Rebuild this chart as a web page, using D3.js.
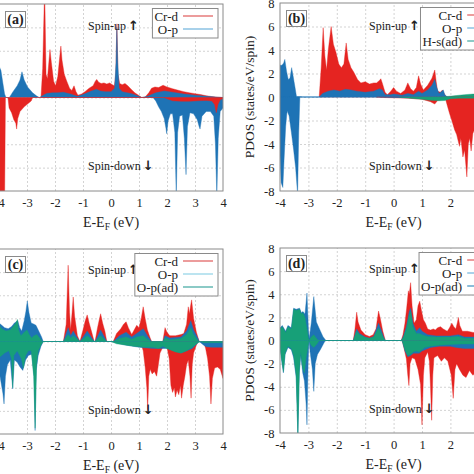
<!DOCTYPE html>
<html><head><meta charset="utf-8">
<script src="https://cdn.jsdelivr.net/npm/d3@7"></script>
<style>body{margin:0;background:#fff}svg{display:block}</style>
</head><body>
<svg id="chart" width="474" height="474"></svg>
<script>
// ---------- tick values ----------
const xTicks = [-4,-3,-2,-1,0,1,2,3,4];
const yTicks = [-8,-6,-4,-2,0,2,4,6,8];
const panelLabels = ["(a)","(b)","(c)","(d)"];
const legendA = ["Cr-d","O-p"];
const legendB = ["Cr-d","O-p","H-s(ad)"];
const legendC = ["Cr-d","O-p","O-p(ad)"];
const legendD = ["Cr-d","O-p","O-p(ad)"];

// ---------- panel (a) : [E, PDOS] ----------
const aCrUp = [[-2.5,0],[-2.44,2.5],[-2.37,9.5],[-2.32,2.0],[-2.27,1.6],[-2.22,3.0],[-2.18,4.1],[-2.13,3.0],[-2.05,1.4],[-1.98,1.0],[-1.9,1.8],[-1.83,3.5],[-1.79,4.4],[-1.75,3.2],[-1.67,2.0],[-1.58,1.4],[-1.48,0.8],[-1.4,0.6],[-1.32,1.0],[-1.25,0.5],[-1.18,0.2],[-1.05,0.3],[-0.93,0.5],[-0.78,0.8],[-0.64,1.0],[-0.56,1.4],[-0.51,1.55],[-0.44,1.3],[-0.35,1.2],[-0.25,1.25],[-0.15,1.15],[-0.05,1.25],[0.05,1.1],[0.12,1.0],[0.17,2.0],[0.21,6.3],[0.25,2.0],[0.31,1.2],[0.4,1.1],[0.5,1.2],[0.6,1.0],[0.72,0.7],[0.85,0.4],[0.98,0.2],[1.1,0],[1.22,0.05],[1.35,0.4],[1.45,0.8],[1.57,0.9],[1.7,0.85],[1.86,1.05],[2.0,0.9],[2.2,0.75],[2.4,0.62],[2.6,0.5],[2.8,0.4],[3.0,0.33],[3.2,0.25],[3.4,0.15],[3.6,0.08],[3.8,0.03],[4.0,0]];
const aOpUp = [[-4,2.7],[-3.93,2.3],[-3.86,1.2],[-3.8,0.3],[-3.75,0],[-3.63,0],[-3.5,0.5],[-3.35,1.0],[-3.25,1.5],[-3.18,2.2],[-3.1,1.5],[-2.98,0.9],[-2.8,0.4],[-2.65,0.12],[-2.56,0],[-2.45,0.15],[-2.3,0.35],[-2.1,0.4],[-1.9,0.4],[-1.7,0.45],[-1.45,0.3],[-1.2,0.1],[-1.0,0.25],[-0.7,0.55],[-0.52,0.7],[-0.38,0.55],[-0.2,0.5],[0.0,0.5],[0.13,0.8],[0.18,3.0],[0.21,6.0],[0.24,3.0],[0.29,0.8],[0.4,0.5],[0.7,0.35],[0.9,0.2],[1.1,0],[1.3,0.1],[1.6,0.4],[1.9,0.55],[2.2,0.45],[2.6,0.3],[3.0,0.2],[3.5,0.08],[4.0,0]];
const aCrDown = [[-4,-9],[-3.8,-9],[-3.77,0],[-3.68,0],[-3.64,-0.9],[-3.55,-1.3],[-3.47,-1.9],[-3.4,-2.2],[-3.37,-2.7],[-3.33,-1.8],[-3.25,-1.2],[-3.1,-0.8],[-2.95,-0.5],[-2.85,-0.3],[-2.8,0],[1.9,0],[2.0,-0.1],[2.2,-0.28],[2.5,-0.32],[2.8,-0.32],[3.1,-0.28],[3.4,-0.25],[3.6,-0.3],[3.7,-0.6],[3.76,-1.3],[3.82,-0.6],[3.9,-0.2],[4.0,-0.1]];
const aOpDown = [[1.5,0],[1.6,-0.3],[1.7,-0.8],[1.8,-1.2],[1.9,-1.8],[1.96,-2.6],[1.99,-3.1],[2.04,-2.0],[2.12,-1.4],[2.2,-1.4],[2.28,-3.0],[2.33,-8.5],[2.38,-3.0],[2.45,-1.6],[2.55,-1.5],[2.62,-3.5],[2.68,-6.6],[2.73,-2.5],[2.82,-1.3],[2.95,-1.4],[3.08,-1.9],[3.15,-2.5],[3.18,-2.7],[3.25,-1.6],[3.4,-1.2],[3.55,-1.2],[3.67,-1.6],[3.73,-4],[3.78,-8.5],[3.83,-3.5],[3.9,-1.2],[4.0,-0.9]];

// ---------- panel (b) ----------
const bCrUp = [[-2.62,0],[-2.55,2.5],[-2.48,5.9],[-2.42,3.5],[-2.36,2.3],[-2.3,4.0],[-2.2,6.0],[-2.12,4.5],[-2.03,3.8],[-1.93,2.8],[-1.84,2.5],[-1.75,2.8],[-1.67,4.6],[-1.6,3.2],[-1.5,2.5],[-1.4,2.1],[-1.27,1.5],[-1.15,1.2],[-1.0,1.3],[-0.85,1.1],[-0.7,1.2],[-0.6,1.2],[-0.5,1.4],[-0.45,1.55],[-0.4,1.2],[-0.3,0.4],[-0.22,0.2],[-0.1,0.5],[0.0,0.8],[0.1,0.5],[0.25,0.3],[0.4,0.6],[0.5,1.2],[0.6,0.7],[0.7,0.5],[0.8,0.8],[0.88,1.8],[0.95,1.1],[1.05,0.6],[1.2,1.0],[1.35,1.6],[1.45,2.3],[1.5,1.3],[1.55,0.5],[1.65,0.4],[1.72,0.6],[1.78,0.3],[1.85,0]];
const bOpUp = [[-4,2.7],[-3.93,2.7],[-3.87,2.9],[-3.83,3.2],[-3.77,2.2],[-3.71,1.5],[-3.65,1.6],[-3.59,2.5],[-3.54,1.8],[-3.47,0.8],[-3.42,0.05],[-3.24,0.02],[-3.23,0],[-2.62,0],[-2.5,0.3],[-2.3,0.5],[-2.1,0.6],[-1.9,0.5],[-1.7,0.65],[-1.5,0.6],[-1.3,0.5],[-1.0,0.4],[-0.7,0.5],[-0.5,0.7],[-0.4,0.6],[-0.3,0.2],[-0.1,0.2],[0.0,0.25],[0.3,0.15],[0.5,0.3],[0.7,0.2],[0.88,0.5],[1.0,0.3],[1.2,0.6],[1.35,1.0],[1.45,1.5],[1.52,0.8],[1.6,0.3],[1.7,0.5],[1.75,0.6],[1.8,0.2],[1.9,0]];
const bHsUp = [[1.7,0],[1.9,0.05],[2.2,0.12],[2.5,0.2],[2.8,0.25],[3.2,0.2],[3.6,0.1],[4.0,0.05]];
const bCrDown = [[-0.6,0],[-0.3,-0.05],[0.5,-0.1],[1.0,-0.2],[1.3,-0.4],[1.45,-0.6],[1.55,-0.3],[1.7,-0.2],[1.82,-0.1],[1.9,-0.8],[1.97,-1.4],[2.05,-2.0],[2.15,-2.8],[2.22,-3.2],[2.32,-4.2],[2.37,-3.5],[2.44,-5.1],[2.5,-4.5],[2.58,-6.8],[2.63,-4.0],[2.68,-3.5],[2.73,-4.6],[2.79,-3.1],[2.9,-2.5],[3.1,-2.0],[3.4,-1.5],[3.7,-1.0],[4.0,-0.5]];
const bOpDown = [[-4,-5],[-3.96,-7.3],[-3.9,-7.7],[-3.86,-5.5],[-3.8,-2.5],[-3.75,-1.2],[-3.68,-1.6],[-3.6,-3.0],[-3.52,-4.5],[-3.45,-6.0],[-3.38,-8.3],[-3.34,-3.0],[-3.3,0],[-0.5,0],[1.0,-0.1],[1.5,-0.2],[2.0,0]];
const bHsDown = [[0.2,0],[0.6,-0.1],[1.0,-0.2],[1.3,-0.28],[1.6,-0.32],[1.8,-0.3],[2.0,-0.15],[2.3,-0.1],[3.0,-0.1],[4.0,0]];

// ---------- panel (c) ----------
const cCrUp = [[-1.7,0],[-1.6,1.5],[-1.53,6.6],[-1.48,2.5],[-1.44,1.0],[-1.39,2.5],[-1.35,3.85],[-1.3,2.2],[-1.2,0.5],[-1.11,0],[-1.0,1.0],[-0.92,1.8],[-0.85,2.3],[-0.78,1.6],[-0.7,0.9],[-0.6,0],[-0.57,0],[-0.48,1.2],[-0.4,2.1],[-0.37,2.4],[-0.3,1.6],[-0.22,0.9],[-0.15,0],[0.08,0],[0.2,0.7],[0.35,1.1],[0.45,1.5],[0.54,1.7],[0.62,1.2],[0.74,0.6],[0.85,1.1],[0.92,1.4],[1.0,1.2],[1.08,2.0],[1.15,3.0],[1.22,2.0],[1.3,1.0],[1.4,0.3],[1.45,0],[1.85,0],[1.93,1.2],[2.0,0.8],[2.1,0.5],[2.3,0.5],[2.5,0.6],[2.6,0.7],[2.7,1.5],[2.76,3.0],[2.8,2.4],[2.85,3.2],[2.88,3.6],[2.95,2.0],[3.05,0.8],[3.15,0]];
const cOpUp = [[-4,1.6],[-3.9,1.4],[-3.8,1.2],[-3.67,1.1],[-3.55,1.3],[-3.45,1.6],[-3.33,1.8],[-3.26,1.2],[-3.19,0.9],[-3.1,1.8],[-3.04,2.6],[-2.99,3.5],[-2.93,2.5],[-2.85,1.6],[-2.75,1.5],[-2.68,1.4],[-2.56,0.8],[-2.48,0.4],[-2.42,0],[-1.7,0],[-1.53,1.2],[-1.44,0.5],[-1.35,0.9],[-1.2,0.3],[-1.11,0],[-0.85,0.9],[-0.6,0],[-0.57,0],[-0.37,1.0],[-0.15,0],[0.08,0],[0.3,0.5],[0.54,0.8],[0.74,0.4],[0.92,0.7],[1.15,1.1],[1.3,0.5],[1.45,0],[1.85,0],[1.93,0.5],[2.1,0.3],[2.5,0.4],[2.7,0.9],[2.85,1.8],[2.95,1.0],[3.1,0.3],[3.15,0]];
const cOpAdUp = [[-4,1.4],[-3.9,1.1],[-3.75,0.9],[-3.6,1.0],[-3.5,1.3],[-3.4,1.6],[-3.34,1.9],[-3.3,1.0],[-3.22,0.5],[-3.1,0.8],[-3.0,1.0],[-2.92,0.6],[-2.84,0.3],[-2.75,0.5],[-2.65,0.6],[-2.55,0.3],[-2.45,0],[-1.7,0],[-1.53,0.6],[-1.44,0.3],[-1.35,0.5],[-1.2,0.2],[-1.11,0],[-0.85,0.5],[-0.6,0],[-0.57,0],[-0.37,0.5],[-0.15,0],[0.08,0],[0.3,0.25],[0.54,0.4],[0.74,0.2],[0.92,0.4],[1.15,0.5],[1.3,0.2],[1.45,0],[1.85,0],[1.93,0.3],[2.1,0.15],[2.5,0.25],[2.7,0.6],[2.85,1.2],[2.95,0.6],[3.1,0.1],[3.15,0]];
const cCrDown = [[1.05,0],[1.15,-0.8],[1.22,-2.2],[1.28,-4.0],[1.31,-5.9],[1.35,-3.0],[1.4,-2.4],[1.47,-2.8],[1.55,-2.6],[1.63,-3.0],[1.68,-2.2],[1.75,-1.0],[1.85,-0.5],[2.0,-0.5],[2.08,-1.5],[2.14,-3.8],[2.2,-4.4],[2.26,-4.0],[2.3,-4.8],[2.36,-4.2],[2.42,-4.6],[2.48,-3.8],[2.52,-4.9],[2.58,-3.8],[2.64,-3.0],[2.7,-2.0],[2.76,-1.6],[2.82,-3.0],[2.86,-4.9],[2.9,-2.0],[2.95,-1.0],[3.05,-0.3],[3.12,0],[3.3,0],[3.38,-0.6],[3.45,-1.5],[3.52,-3.0],[3.57,-5.4],[3.62,-3.2],[3.7,-2.3],[3.8,-2.2],[3.9,-2.4],[3.95,-2.8],[4.0,-3.2]];
const cOpDown = [[-4,-2.5],[-3.93,-3.5],[-3.86,-4.5],[-3.82,-5.4],[-3.77,-3.0],[-3.7,-2.0],[-3.6,-1.6],[-3.51,-4.1],[-3.45,-1.6],[-3.35,-1.8],[-3.25,-2.2],[-3.15,-2.5],[-3.05,-1.6],[-2.95,-1.2],[-2.83,-1.1],[-2.75,-3.0],[-2.71,-7.7],[-2.67,-2.5],[-2.6,-1.2],[-2.5,-0.4],[-2.42,0],[0.0,0],[0.5,-0.3],[1.0,-0.5],[1.5,-0.6],[2.0,-0.6],[2.5,-1.0],[2.9,-0.6],[3.15,0],[3.3,-0.3],[3.4,-0.45],[3.6,-0.5],[3.8,-0.5],[4.0,-0.5]];
const cOpAdDown = [[-4,-1.4],[-3.9,-1.2],[-3.8,-1.0],[-3.65,-0.8],[-3.55,-1.5],[-3.51,-4.0],[-3.47,-1.2],[-3.35,-0.8],[-3.2,-1.5],[-3.13,-2.3],[-3.05,-1.2],[-2.95,-0.8],[-2.85,-0.8],[-2.76,-3.0],[-2.71,-7.5],[-2.66,-2.0],[-2.6,-0.8],[-2.5,-0.3],[-2.42,0],[0.0,0],[0.2,-0.2],[0.5,-0.3],[0.8,-0.4],[1.0,-0.45],[1.2,-0.5],[1.5,-0.5],[1.7,-0.6],[1.85,-0.4],[2.0,-0.6],[2.3,-0.9],[2.5,-1.0],[2.7,-0.8],[2.9,-0.5],[3.1,-0.1],[3.2,0],[3.3,-0.1],[4.0,-0.1]];

// ---------- panel (d) ----------
const dCrUp = [[-1.42,0],[-1.36,1.0],[-1.3,2.45],[-1.25,1.6],[-1.15,0.9],[-1.0,0.5],[-0.85,0.35],[-0.72,0.5],[-0.62,1.0],[-0.53,2.55],[-0.46,1.8],[-0.38,0.8],[-0.29,0],[0.27,0],[0.33,0.5],[0.4,1.5],[0.46,2.8],[0.52,4.3],[0.55,4.0],[0.6,5.0],[0.65,3.0],[0.72,1.5],[0.8,1.8],[0.86,3.0],[0.92,3.4],[0.98,2.6],[1.05,1.8],[1.12,1.5],[1.2,1.0],[1.3,0.9],[1.4,1.0],[1.47,0.9],[1.55,1.1],[1.65,1.2],[1.75,1.0],[1.89,0.8],[1.97,1.1],[2.05,1.5],[2.12,1.2],[2.19,1.0],[2.25,1.6],[2.28,2.0],[2.33,1.3],[2.42,0.8],[2.6,0.8],[2.8,0.7],[3.0,0.6]];
const dOpUp = [[-4,1.1],[-3.92,1.3],[-3.8,0.8],[-3.72,1.3],[-3.6,1.1],[-3.52,2.8],[-3.43,2.7],[-3.31,2.8],[-3.25,2.4],[-3.19,2.5],[-3.12,2.3],[-3.05,4.1],[-3.0,1.0],[-2.97,0.2],[-2.9,1.5],[-2.81,3.8],[-2.72,1.6],[-2.61,1.0],[-2.49,0.35],[-2.4,0.05],[-2.37,0],[-1.42,0],[-1.3,1.0],[-1.2,0.6],[-1.0,0.3],[-0.85,0.2],[-0.7,0.35],[-0.53,1.5],[-0.45,1.0],[-0.35,0.3],[-0.29,0],[0.27,0],[0.35,0.4],[0.45,1.2],[0.55,2.5],[0.6,2.8],[0.68,1.5],[0.8,0.8],[0.92,1.1],[1.0,0.8],[1.2,0.5],[1.5,0.4],[2.0,0.4],[2.28,0.5],[2.5,0.3],[3.0,0.3]];
const dOpAdUp = [[-4,1.0],[-3.92,1.2],[-3.8,0.7],[-3.72,1.2],[-3.6,1.0],[-3.52,2.7],[-3.43,2.6],[-3.31,2.7],[-3.25,2.3],[-3.19,2.4],[-3.12,2.0],[-3.05,1.0],[-3.0,0.2],[-2.97,0],[-2.9,0.3],[-2.81,0.5],[-2.72,0.2],[-2.65,0],[-1.42,0],[-1.3,0.8],[-1.2,0.5],[-1.0,0.25],[-0.85,0.2],[-0.7,0.3],[-0.53,1.1],[-0.45,0.7],[-0.35,0.2],[-0.29,0],[0.27,0],[0.35,0.3],[0.45,1.0],[0.55,2.2],[0.6,2.5],[0.68,1.2],[0.8,0.6],[0.92,0.6],[1.0,0.5],[1.2,0.35],[1.5,0.3],[2.0,0.3],[2.28,0.35],[2.5,0.2],[3.0,0.2]];
const dCrDown = [[0.3,0],[0.38,-0.8],[0.45,-1.6],[0.5,-3.0],[0.54,-3.9],[0.58,-2.0],[0.65,-1.5],[0.75,-1.6],[0.86,-2.5],[0.95,-3.8],[1.0,-7.3],[1.05,-3.0],[1.1,-1.5],[1.2,-1.0],[1.26,-1.8],[1.3,-4.0],[1.34,-6.9],[1.38,-3.0],[1.42,-1.5],[1.55,-1.3],[1.68,-1.8],[1.79,-1.5],[1.91,-1.8],[2.03,-3.0],[2.1,-5.0],[2.16,-2.5],[2.22,-2.0],[2.32,-2.5],[2.44,-3.0],[2.55,-3.2],[2.67,-2.6],[2.79,-3.0],[2.9,-2.8],[3.0,-2.5]];
const dOpDown = [[-4,-0.6],[-3.95,-1.6],[-3.88,-2.8],[-3.82,-1.2],[-3.72,-0.6],[-3.6,-0.8],[-3.52,-1.5],[-3.43,-3.2],[-3.37,-8.3],[-3.32,-2.8],[-3.27,-1.3],[-3.2,-2.8],[-3.14,-3.5],[-3.08,-5.5],[-3.05,-7.3],[-3.01,-2.0],[-2.98,0],[-2.94,-1.0],[-2.86,-2.5],[-2.81,-4.4],[-2.76,-2.0],[-2.68,-1.2],[-2.58,-0.8],[-2.45,-0.2],[-2.4,0],[0.3,0],[0.4,-0.9],[0.5,-1.4],[0.6,-1.3],[0.7,-1.1],[0.9,-1.1],[1.0,-0.9],[1.3,-0.6],[1.6,-0.5],[2.0,-0.5],[2.2,-0.6],[2.5,-0.7],[2.8,-0.7],[3.0,-0.6]];
const dOpAdDown = [[-4,-0.5],[-3.95,-1.5],[-3.88,-2.7],[-3.82,-1.1],[-3.72,-0.5],[-3.6,-0.7],[-3.52,-1.3],[-3.43,-3.0],[-3.37,-8.3],[-3.32,-2.6],[-3.27,-1.0],[-3.2,-2.4],[-3.14,-2.8],[-3.08,-1.5],[-3.0,-0.3],[-2.98,0],[-2.9,-0.4],[-2.81,-0.6],[-2.7,-0.3],[-2.62,0],[0.3,0],[0.4,-0.8],[0.5,-1.3],[0.6,-1.2],[0.7,-1.0],[0.8,-0.9],[0.9,-1.0],[1.0,-0.8],[1.1,-0.6],[1.3,-0.5],[1.6,-0.4],[2.0,-0.35],[2.4,-0.3],[2.8,-0.3],[3.0,-0.3]];

// ---------- styling ----------
const RED = "#e52421", BLUE = "#1e73b5", GREEN = "#17a078";
const LRED = "#e05a5a", LBLUE = "#6fb2dc", LGREEN = "#3fa7a0";
const FONT = "'Liberation Serif','Times New Roman',serif";
const CW = 474;

const panels = [
  {label:panelLabels[0], left:-1, right:223, top:4, bottom:191, legend:legendA, lcol:[LRED,LBLUE], yText:false,
   layers:[[aCrUp,RED],[aOpUp,BLUE],[aOpDown,BLUE],[aCrDown,RED]]},
  {label:panelLabels[1], left:280, right:507.2, top:3, bottom:191, legend:legendB, lcol:[LRED,LBLUE,LGREEN], yText:true,
   layers:[[bCrUp,RED],[bOpUp,BLUE],[bHsUp,GREEN],[bCrDown,RED],[bOpDown,BLUE],[bHsDown,GREEN]]},
  {label:panelLabels[2], left:-1, right:223, top:249, bottom:434, legend:legendC, lcol:[LRED,"#8fd3e6",LGREEN], yText:false,
   layers:[[cCrUp,RED],[cOpUp,BLUE],[cOpAdUp,GREEN],[cCrDown,RED],[cOpDown,BLUE],[cOpAdDown,GREEN]]},
  {label:panelLabels[3], left:280, right:507.2, top:248, bottom:433, legend:legendD, lcol:[LRED,LBLUE,"#3f8fc0"], yText:true,
   layers:[[dCrUp,RED],[dOpUp,BLUE],[dOpAdUp,GREEN],[dCrDown,RED],[dOpDown,BLUE],[dOpAdDown,GREEN]]}
];

const svg = d3.select("#chart");
svg.append("rect").attr("width",CW).attr("height",474).attr("fill","#fff");

panels.forEach((p,i)=>{
  const x = d3.scaleLinear().domain([-4,4]).range([p.left,p.right]);
  const y = d3.scaleLinear().domain([-8,8]).range([p.bottom,p.top]);
  const g = svg.append("g");
  const W = p.right-p.left, H = p.bottom-p.top;
  const clipId = "clip"+i;
  svg.append("clipPath").attr("id",clipId).append("rect")
     .attr("x",p.left).attr("y",p.top).attr("width",W).attr("height",H);

  // grid (lines only)
  const gx = g.append("g").attr("transform",`translate(0,${p.bottom})`)
    .call(d3.axisBottom(x).tickValues(xTicks.slice(1,-1)).tickSize(-H).tickFormat(""));
  const gy = g.append("g").attr("transform",`translate(${p.left},0)`)
    .call(d3.axisLeft(y).tickValues(yTicks.slice(1,-1)).tickSize(-W).tickFormat(""));
  [gx,gy].forEach(a=>{
    a.select(".domain").remove();
    a.selectAll("text").remove();
    a.selectAll("line").attr("stroke","#c8c8c8").attr("stroke-width",0.8).attr("stroke-dasharray","2,2");
  });

  // areas
  const area = d3.area().x(d=>x(d[0])).y0(y(0)).y1(d=>y(d[1]));
  const ag = g.append("g").attr("clip-path",`url(#${clipId})`);
  p.layers.forEach(([data,col])=>{
    ag.append("path").datum(data).attr("d",area).attr("fill",col).attr("stroke",col).attr("stroke-width",0.4);
  });

  // frame
  g.append("rect").attr("x",p.left).attr("y",p.top).attr("width",W).attr("height",H)
    .attr("fill","none").attr("stroke","#8a8a8a").attr("stroke-width",1);

  // x tick labels (only those that fall inside the picture)
  const visX = xTicks.filter(t=>x(t) < CW-4);
  const ax = g.append("g").attr("transform",`translate(0,${p.bottom})`)
    .call(d3.axisBottom(x).tickValues(visX).tickSize(0).tickPadding(7.5).tickFormat(d=>String(d)));
  ax.select(".domain").remove();
  ax.selectAll("text").attr("font-family",FONT).attr("font-size",12.5).attr("fill","#222");

  // y tick labels + title (only where the panel's left side is inside the picture)
  if (p.yText) {
    const ay = g.append("g").attr("transform",`translate(${p.left},0)`)
      .call(d3.axisLeft(y).tickValues(yTicks).tickSize(0).tickPadding(5.5).tickFormat(d=>String(d)));
    ay.select(".domain").remove();
    ay.selectAll("text").attr("font-family",FONT).attr("font-size",12.5).attr("fill","#222");
    const cy = (p.top+p.bottom)/2;
    g.append("text").attr("transform",`translate(${p.left-26},${cy}) rotate(-90)`)
      .attr("text-anchor","middle").attr("font-family",FONT).attr("font-size",13.5).attr("fill","#222")
      .text("PDOS (states/eV/spin)");
  }

  // x title
  const xt = g.append("text").attr("x",(p.left+p.right)/2).attr("y",p.bottom+36)
    .attr("text-anchor","middle").attr("font-family",FONT).attr("font-size",14).attr("fill","#222");
  xt.append("tspan").text("E-E");
  xt.append("tspan").attr("font-size",9.5).attr("dy",3).text("F");
  xt.append("tspan").attr("dy",-3).text(" (eV)");

  // panel label
  g.append("rect").attr("x",p.left+6.5).attr("y",p.top+7.5).attr("width",20).attr("height",16)
    .attr("fill","#fff").attr("stroke","#8a8a8a").attr("stroke-width",1);
  g.append("text").attr("x",p.left+16.5).attr("y",p.top+20).attr("text-anchor","middle")
    .attr("font-family",FONT).attr("font-size",14).attr("font-weight","bold").attr("fill","#222").text(p.label);

  // spin labels
  const y0 = y(0);
  const su = g.append("text").attr("x",p.left+89).attr("y",y0-67.5)
    .attr("font-family",FONT).attr("font-size",12).attr("fill","#222");
  su.append("tspan").text("Spin-up");
  su.append("tspan").attr("dx",2).attr("font-family","'DejaVu Sans',sans-serif").attr("font-weight","bold").attr("font-size",13).text("\u2191");
  const sd = g.append("text").attr("x",p.left+89).attr("y",y0+72.5)
    .attr("font-family",FONT).attr("font-size",12).attr("fill","#222");
  sd.append("tspan").text("Spin-down");
  sd.append("tspan").attr("dx",2).attr("font-family","'DejaVu Sans',sans-serif").attr("font-weight","bold").attr("font-size",13).text("\u2193");

  // legend
  const n = p.legend.length;
  const lg = g.append("g");
  const textRight = p.right-45;
  const box = lg.append("rect").attr("y",p.top+4.5).attr("height",n*13+3.5)
    .attr("fill","#fff").attr("stroke","#8a8a8a").attr("stroke-width",1);
  let maxW = 0;
  p.legend.forEach((name,k)=>{
    const cyk = p.top+12+k*13;
    const t = lg.append("text").attr("x",textRight).attr("y",cyk+4.5).attr("text-anchor","end")
      .attr("font-family",FONT).attr("font-size",13).attr("fill","#222").text(name);
    maxW = Math.max(maxW, t.node().getComputedTextLength());
    lg.append("line").attr("x1",p.right-40).attr("x2",p.right-10).attr("y1",cyk).attr("y2",cyk)
      .attr("stroke",p.lcol[k]).attr("stroke-width",1.2);
  });
  const bx = textRight-maxW-2;
  box.attr("x",bx).attr("width",(p.right-5)-bx);
});
</script>
</body></html>
